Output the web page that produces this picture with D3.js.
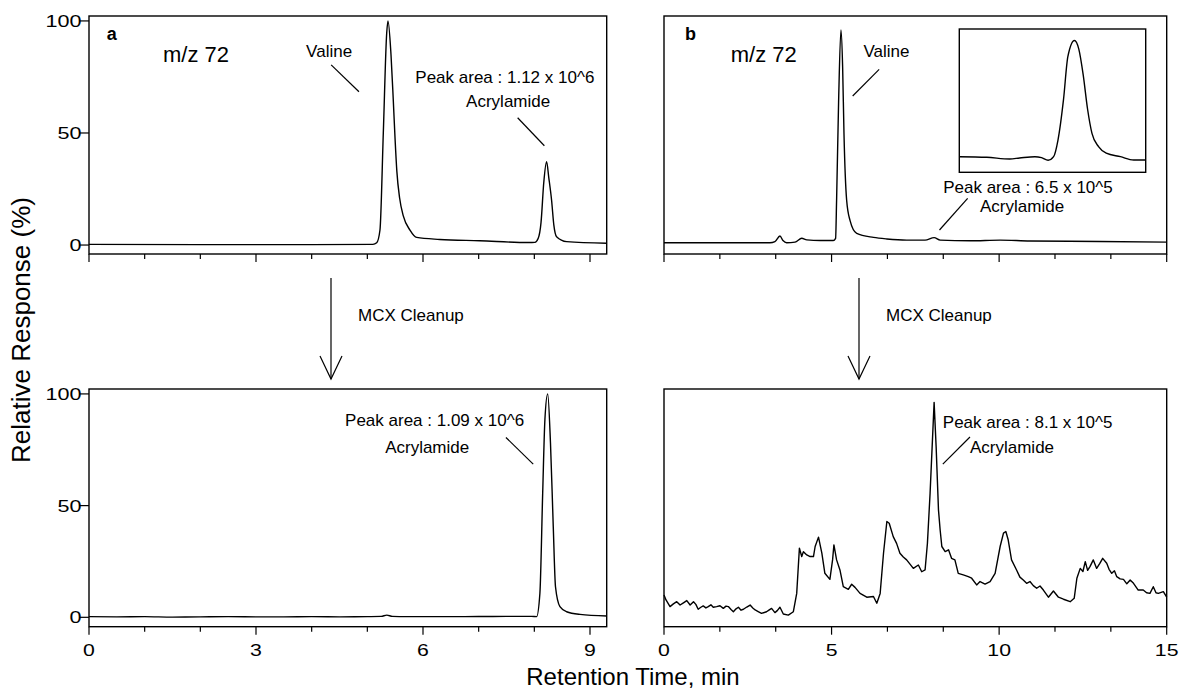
<!DOCTYPE html>
<html>
<head>
<meta charset="utf-8">
<script src="https://cdn.jsdelivr.net/npm/d3@7"></script>
<style>
  body { margin: 0; background: #fff; }
  svg { display: block; font-family: "Liberation Sans", Arial, sans-serif; }
  .trace { fill: none; stroke: #000; stroke-width: 1.4; stroke-linejoin: round; }
  .frame { fill: none; stroke: #000; stroke-width: 1.4; }
  .tick, .lead { stroke: #000; stroke-width: 1.2; }
</style>
</head>
<body>
<svg id="chart" width="1179" height="690"></svg>
<script>
// chromatogram traces (time in min, relative response in %)
var aTopTime = [0, 2, 4, 5.1, 5.168, 5.227, 5.287, 5.348, 5.371, 5.425, 5.466, 5.497, 5.53, 5.58, 5.646, 5.766, 5.886, 6.3, 7.02, 7.9, 8.01, 8.07, 8.12, 8.17, 8.22, 8.26, 8.31, 8.35, 8.40, 8.58, 9.3];
var aTopResp = [0.3, 0.2, 0.2, 0.3, 1.0, 6.7, 50, 94.6, 100, 85, 64.7, 48, 33, 21, 13, 6.7, 3.4, 2.5, 1.9, 1.1, 1.2, 3, 10, 28, 37.2, 30, 20, 9, 3.7, 1.5, 0.8];

var aBotTime = [0, 0.5, 1, 1.5, 2, 2.5, 3, 3.5, 4, 4.5, 5, 5.25, 5.35, 5.45, 5.7, 6.5, 7.5, 7.95, 8.04, 8.10, 8.15, 8.19, 8.24, 8.29, 8.34, 8.38, 8.46, 8.58, 8.82, 9.3];
var aBotResp = [0.3, 0.2, 0.3, 0.1, 0.2, 0.3, 0.2, 0.2, 0.3, 0.2, 0.3, 0.4, 1.0, 0.4, 0.3, 0.3, 0.4, 0.4, 0.3, 10.8, 55.6, 88.5, 100, 78, 40.6, 13.7, 4.8, 2.5, 1.3, 0.6];

var bTopTime = [0, 1.5, 3.0, 3.16, 3.31, 3.46, 3.55, 3.66, 3.91, 4.11, 4.26, 4.66, 5.05, 5.12, 5.15, 5.21, 5.28, 5.33, 5.37, 5.45, 5.55, 5.75, 6.25, 6.65, 7.24, 7.79, 8.06, 8.24, 9.13, 10.03, 10.92, 13.0, 15];
var bTopResp = [1.0, 1.0, 1.0, 1.0, 1.5, 4, 2, 1.0, 1.3, 3, 2.3, 2.0, 2.0, 3, 20, 64, 96, 79.6, 50, 20, 11, 5.2, 3.4, 2.7, 2.2, 2.2, 3.3, 2.2, 1.9, 2.2, 1.8, 1.6, 1.3];

// zoomed view of the acrylamide peak (inset, own scale)
var insetTime = [7.0, 7.25, 7.46, 7.55, 7.69, 7.75, 7.81, 7.86, 7.90, 7.95, 7.99, 8.05, 8.09, 8.13, 8.17, 8.21, 8.27, 8.34, 8.47, 8.59, 8.7];
var insetResp = [10.9, 10.5, 9.3, 10, 10.9, 10.2, 8.4, 10.9, 22.5, 50.5, 80.7, 92, 86, 68, 44, 27.2, 17.9, 13.3, 10.9, 8.6, 8.6];

var bBotTime = [0, 0.06, 0.18, 0.28, 0.38, 0.48, 0.58, 0.68, 0.78, 0.88, 0.95, 1.02, 1.10, 1.17, 1.25, 1.32, 1.40, 1.47, 1.57, 1.67, 1.77, 1.85, 1.92, 2.00, 2.07, 2.15, 2.22, 2.30, 2.37, 2.47, 2.57, 2.65, 2.72, 2.81, 2.91, 3.06, 3.13, 3.21, 3.31, 3.38, 3.46, 3.56, 3.71, 3.86,
  3.96, 4.04, 4.11, 4.16, 4.26, 4.36, 4.46, 4.51, 4.61, 4.71, 4.80, 4.95, 5.03, 5.07, 5.15, 5.25, 5.35, 5.50, 5.60, 5.70, 5.85, 6.05, 6.25, 6.35, 6.45,
  6.55, 6.65, 6.72, 6.84, 6.94, 7.04, 7.14, 7.24, 7.34, 7.44, 7.59, 7.69, 7.79, 7.86, 7.94, 8.06, 8.12, 8.19, 8.24, 8.29, 8.39, 8.49, 8.58, 8.68, 8.78, 8.93,
  9.08, 9.18, 9.33, 9.43, 9.58, 9.73, 9.88, 10.03, 10.13, 10.20, 10.27, 10.37, 10.52, 10.62, 10.72, 10.82, 10.92, 11.02, 11.12, 11.22, 11.32, 11.47, 11.62, 11.77, 11.92,
  12.12, 12.24, 12.32, 12.42, 12.50, 12.57, 12.64, 12.71, 12.81, 12.91, 13.00, 13.09, 13.21, 13.28, 13.36, 13.44, 13.51, 13.61, 13.71, 13.81, 13.91, 14.01, 14.15, 14.30, 14.40, 14.50, 14.60, 14.68, 14.75, 14.90, 15.0];
var bBotResp = [10.0, 7.8, 4.8, 6.0, 7.0, 5.5, 6.5, 7.5, 5.5, 7.0, 5.8, 3.6, 4.5, 5.1, 4.2, 4.8, 5.6, 4.5, 4.8, 5.2, 4.0, 5.0, 4.8, 3.5, 2.5, 3.8, 4.5, 3.2, 3.6, 4.6, 5.5, 4.2, 3.3, 2.6, 1.8, 2.5, 3.2, 4.0, 2.1, 3.0, 4.5, 1.5, 1.0, 2.5,
  10.7, 30.9, 27.2, 29.4, 27.9, 27.2, 27.2, 31.7, 35.9, 28.7, 19.7, 17.0, 25.7, 32.4, 25.7, 21.2, 13.7, 12.5, 14.8, 13.4, 10.7, 9.0, 9.3, 6.3, 10.7,
  28.7, 42.9, 42.1, 36.1, 33.1, 28.7, 27.0, 25.7, 23.8, 21.9, 23.4, 20.4, 21.2, 33.1, 55.6, 96.2, 76.5, 48.1, 39.1, 31.7, 29.4, 30.2, 26.4, 25.7, 19.7, 19.0,
  18.2, 17.5, 14.5, 16.0, 14.9, 16.0, 19.7, 31.7, 37.7, 38.4, 34.7, 25.7, 21.2, 18.0, 16.7, 15.2, 16.0, 14.2, 13.0, 14.0, 12.2, 9.0, 11.8, 9.0, 8.1,
  7.0, 8.5, 17.5, 21.9, 20.5, 24.9, 21.0, 22.7, 25.7, 21.9, 24.0, 26.4, 24.2, 21.5, 19.7, 20.8, 18.2, 17.2, 17.0, 15.0, 16.7, 15.2, 12.2, 12.2, 11.0, 10.7, 13.7, 11.0, 10.7, 11.5, 9.0];

// axis ticks
var aMajor = [0, 3, 6, 9];
var aMinor = [1, 2, 4, 5, 7, 8];
var bMajor = [0, 5, 10, 15];
var bMinor = [5 / 3, 10 / 3, 20 / 3, 25 / 3, 35 / 3, 40 / 3];
var yTicks = [0, 50, 100];

// annotations in data units of each panel
var aTopNotes = [
  { t: 0.32, v: 91.5, text: 'a', bold: true, size: 18 },
  { t: 1.33, v: 81.7, text: 'm/z 72', size: 22 },
  { t: 3.90, v: 84.1, text: 'Valine' },
  { t: 7.47, v: 72.3, text: 'Peak area : 1.12 x 10^6', anchor: 'middle' },
  { t: 7.53, v: 61.6, text: 'Acrylamide', anchor: 'middle' }
];
var aTopLeads = [[4.35, 80.4, 4.85, 68.4], [7.70, 56.8, 8.18, 44.3]];
var bTopNotes = [
  { t: 0.63, v: 91.5, text: 'b', bold: true, size: 18 },
  { t: 1.99, v: 81.7, text: 'm/z 72', size: 22 },
  { t: 5.95, v: 84.1, text: 'Valine' },
  { t: 8.33, v: 23.0, text: 'Peak area : 6.5 x 10^5' },
  { t: 9.43, v: 14.9, text: 'Acrylamide' }
];
var bTopLeads = [[6.42, 78.4, 5.63, 66.5], [9.06, 20.8, 8.22, 6.7]];
var aBotNotes = [
  { t: 4.60, v: 85.5, text: 'Peak area : 1.09 x 10^6' },
  { t: 5.32, v: 73.5, text: 'Acrylamide' }
];
var aBotLeads = [[7.49, 80.5, 7.98, 68.6]];
var bBotNotes = [
  { t: 8.32, v: 84.9, text: 'Peak area : 8.1 x 10^5' },
  { t: 9.13, v: 73.5, text: 'Acrylamide' }
];
var bBotLeads = [[9.13, 80.7, 8.32, 68.6]];

(function () {
  var svg = d3.select('#chart');

  var colA = [89, 606.7], colB = [664, 1166.7];
  var rowTop = [254, 16], rowBot = [626.7, 389];

  function panel(cfg) {
    var x = d3.scaleLinear().domain(cfg.xDomain).range(cfg.xRange);
    var y = d3.scaleLinear().domain(cfg.yDomain).range(cfg.yRange);
    var g = svg.append('g');

    // trace
    g.append('path')
      .attr('class', 'trace')
      .attr('d', d3.line()
        .x(function (d, i) { return x(cfg.time[i]); })
        .y(function (d) { return y(d); })
        .curve(cfg.curve || d3.curveMonotoneX)(cfg.resp));

    // frame
    g.append('rect').attr('class', 'frame')
      .attr('x', cfg.xRange[0]).attr('y', cfg.yRange[1])
      .attr('width', cfg.xRange[1] - cfg.xRange[0])
      .attr('height', cfg.yRange[0] - cfg.yRange[1]);

    var bottom = cfg.yRange[0];
    // x ticks, pointing down
    g.selectAll('.maj').data(cfg.major).enter().append('line')
      .attr('class', 'tick')
      .attr('x1', x).attr('x2', x)
      .attr('y1', bottom).attr('y2', bottom + 8);
    g.selectAll('.min').data(cfg.minor).enter().append('line')
      .attr('class', 'tick')
      .attr('x1', x).attr('x2', x)
      .attr('y1', bottom).attr('y2', bottom + 5);

    if (cfg.xLabels) {
      g.selectAll('.xl').data(cfg.major).enter().append('text')
        .attr('transform', function (d) { return 'translate(' + x(d) + ',' + (bottom + 29) + ') scale(1.33,1)'; })
        .attr('text-anchor', 'middle')
        .style('font-size', '16px')
        .text(function (d) { return d; });
    }

    if (cfg.yLabels) {
      var left = cfg.xRange[0];
      g.selectAll('.yt').data(yTicks).enter().append('line')
        .attr('class', 'tick')
        .attr('x1', left - 10).attr('x2', left)
        .attr('y1', y).attr('y2', y);
      g.selectAll('.yl').data(yTicks).enter().append('text')
        .attr('transform', function (d) { return 'translate(' + (left - 7.5) + ',' + (y(d) + 6) + ') scale(1.35,1)'; })
        .attr('text-anchor', 'end')
        .style('font-size', '16px')
        .text(function (d) { return d; });
    }

    // annotations
    g.selectAll('.note').data(cfg.notes).enter().append('text')
      .attr('x', function (d) { return x(d.t); })
      .attr('y', function (d) { return y(d.v); })
      .attr('text-anchor', function (d) { return d.anchor || 'start'; })
      .style('font-size', function (d) { return (d.size || 17) + 'px'; })
      .style('font-weight', function (d) { return d.bold ? 'bold' : 'normal'; })
      .text(function (d) { return d.text; });
    g.selectAll('.lead').data(cfg.leads).enter().append('line')
      .attr('class', 'lead')
      .attr('x1', function (d) { return x(d[0]); }).attr('y1', function (d) { return y(d[1]); })
      .attr('x2', function (d) { return x(d[2]); }).attr('y2', function (d) { return y(d[3]); });
  }

  panel({ xDomain: [0, 9.3], xRange: colA, yDomain: [-4, 102.2], yRange: rowTop,
    time: aTopTime, resp: aTopResp, major: aMajor, minor: aMinor, yLabels: true,
    notes: aTopNotes, leads: aTopLeads });
  panel({ xDomain: [0, 9.3], xRange: colA, yDomain: [-4.2, 102.2], yRange: rowBot,
    time: aBotTime, resp: aBotResp, major: aMajor, minor: aMinor, yLabels: true, xLabels: true,
    notes: aBotNotes, leads: aBotLeads });
  panel({ xDomain: [0, 15], xRange: colB, yDomain: [-4, 102.2], yRange: rowTop,
    time: bTopTime, resp: bTopResp, major: bMajor, minor: bMinor,
    notes: bTopNotes, leads: bTopLeads });
  panel({ xDomain: [0, 15], xRange: colB, yDomain: [-4.2, 102.2], yRange: rowBot,
    time: bBotTime, resp: bBotResp, major: bMajor, minor: bMinor, xLabels: true, curve: d3.curveLinear,
    notes: bBotNotes, leads: bBotLeads });

  // inset in panel b
  var ix = d3.scaleLinear().domain([7.0, 8.7]).range([959.3, 1145.7]);
  var iy = d3.scaleLinear().domain([0, 100]).range([172.3, 29]);
  svg.append('rect').attr('class', 'frame')
    .attr('x', 959.3).attr('y', 29).attr('width', 186.4).attr('height', 143.3)
    .style('fill', '#fff');
  svg.append('path')
    .attr('class', 'trace')
    .attr('d', d3.line()
      .x(function (d, i) { return ix(insetTime[i]); })
      .y(function (d) { return iy(d); })
      .curve(d3.curveMonotoneX)(insetResp));

  // MCX cleanup arrows
  [331, 859].forEach(function (ax) {
    svg.append('line').attr('class', 'lead').attr('x1', ax).attr('x2', ax).attr('y1', 278).attr('y2', 379);
    svg.append('path').attr('class', 'lead').style('fill', 'none')
      .attr('d', 'M' + (ax - 11) + ',356L' + ax + ',379L' + (ax + 11) + ',356');
    svg.append('text').attr('x', ax + 27).attr('y', 321)
      .style('font-size', '17px').text('MCX Cleanup');
  });

  // axis titles
  svg.append('text')
    .attr('transform', 'translate(30,330) rotate(-90)')
    .attr('text-anchor', 'middle')
    .style('font-size', '26px')
    .text('Relative Response (%)');
  svg.append('text')
    .attr('x', 633).attr('y', 685)
    .attr('text-anchor', 'middle')
    .style('font-size', '24px')
    .text('Retention Time, min');
}());
</script>
</body>
</html>
